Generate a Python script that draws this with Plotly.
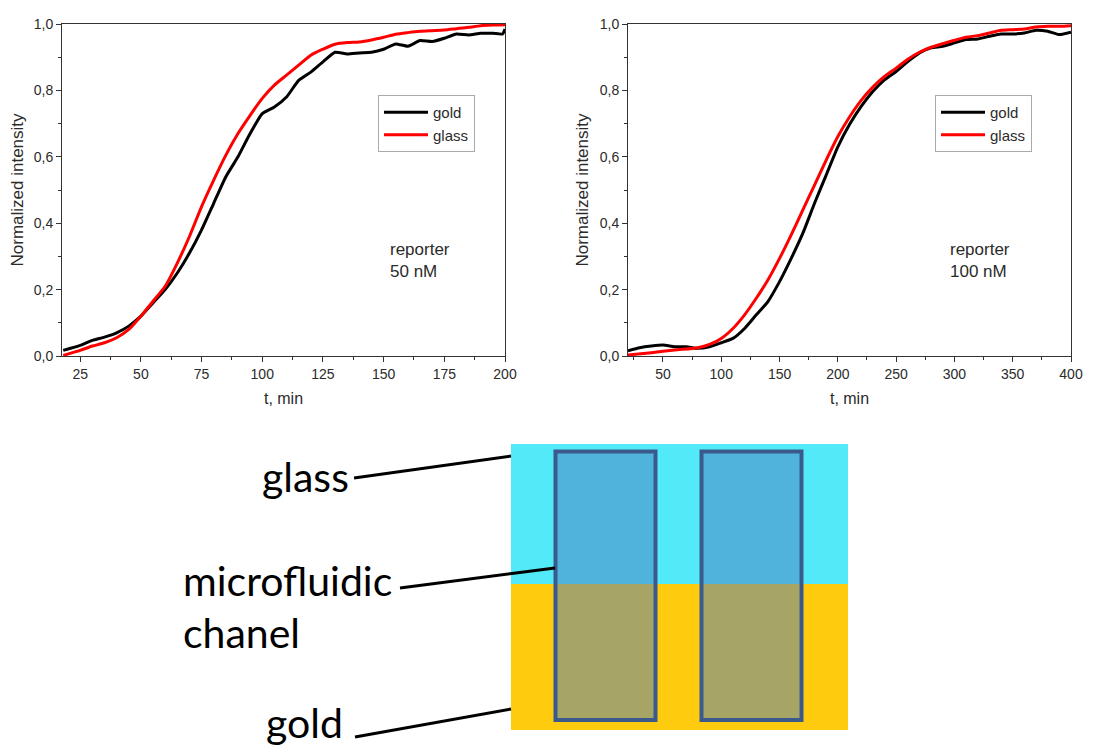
import plotly.graph_objects as go

# ---------------- data ----------------
t_50_gold = [18, 25, 30, 35, 40, 45, 50, 55, 60, 65, 70, 75, 80, 85, 90, 95, 100, 105, 110, 115,
             120, 125, 130, 135, 140, 145, 150, 155, 160, 165, 170, 175, 180, 185, 190, 195, 199, 200]
i_50_gold = [0.017, 0.032, 0.047, 0.057, 0.07, 0.09, 0.12, 0.16, 0.20, 0.25, 0.31, 0.38, 0.46, 0.54,
             0.60, 0.67, 0.73, 0.75, 0.78, 0.83, 0.855, 0.886, 0.915, 0.91, 0.913, 0.915, 0.924, 0.94,
             0.933, 0.95, 0.947, 0.957, 0.97, 0.967, 0.972, 0.972, 0.97, 0.985]

t_50_glass = [18, 25, 30, 35, 40, 45, 50, 55, 60, 65, 70, 75, 80, 85, 90, 95, 100, 105, 110, 115,
              120, 125, 130, 135, 140, 145, 150, 155, 160, 165, 170, 175, 180, 185, 190, 195, 200]
i_50_glass = [0.002, 0.017, 0.03, 0.04, 0.055, 0.08, 0.12, 0.165, 0.21, 0.28, 0.36, 0.45, 0.53, 0.605,
              0.67, 0.725, 0.776, 0.816, 0.846, 0.876, 0.906, 0.924, 0.939, 0.944, 0.946, 0.952, 0.96,
              0.969, 0.974, 0.978, 0.98, 0.982, 0.986, 0.99, 0.995, 0.997, 0.998]

t_100_gold = [20, 30, 40, 50, 60, 70, 80, 90, 100, 110, 120, 130, 140, 150, 160, 170, 180, 190, 200,
              210, 220, 230, 240, 250, 260, 270, 280, 290, 300, 310, 320, 330, 340, 350, 360, 370, 380,
              390, 400]
i_100_gold = [0.016, 0.025, 0.03, 0.033, 0.028, 0.028, 0.023, 0.028, 0.04, 0.053, 0.083, 0.124, 0.164,
              0.224, 0.294, 0.37, 0.46, 0.545, 0.63, 0.697, 0.752, 0.797, 0.832, 0.857, 0.887, 0.913,
              0.928, 0.933, 0.943, 0.953, 0.955, 0.963, 0.97, 0.97, 0.973, 0.981, 0.978, 0.968, 0.975]

t_100_glass = [20, 40, 60, 80, 90, 100, 110, 120, 130, 140, 150, 160, 170, 180, 190, 200, 210, 220, 230,
               240, 250, 260, 270, 280, 290, 300, 310, 320, 330, 340, 350, 360, 370, 380, 390, 400]
i_100_glass = [0.003, 0.01, 0.018, 0.025, 0.035, 0.053, 0.083, 0.124, 0.174, 0.229, 0.294, 0.365, 0.44,
               0.515, 0.59, 0.661, 0.72, 0.77, 0.81, 0.842, 0.867, 0.894, 0.915, 0.93, 0.941, 0.951,
               0.96, 0.965, 0.973, 0.981, 0.983, 0.985, 0.991, 0.993, 0.993, 0.995]

series_names = ["gold", "glass"]
panel_labels = ["reporter<br>50 nM", "reporter<br>100 nM"]
y_tickvals = [0.0, 0.2, 0.4, 0.6, 0.8, 1.0]
y_ticktext = ["0,0", "0,2", "0,4", "0,6", "0,8", "1,0"]
diagram_labels = ["glass", "microfluidic", "chanel", "gold"]

# ---------------- layout helpers ----------------
# the page body has an 8px default margin, so the figure is drawn 8px smaller
OFF = 8
W, H = 1093 - OFF, 748 - OFF
def X(px):
    return (px - OFF) / W
def Y(py):
    return 1 - (py - OFF) / H

FONT = "Liberation Sans, Arial, sans-serif"
TXT = "#2b2b2b"

fig = go.Figure()
fig.add_trace(go.Scatter(x=t_50_gold, y=i_50_gold, name=series_names[0], mode="lines",
                         line=dict(color="black", width=3, shape="spline", smoothing=0.5),
                         xaxis="x", yaxis="y", legend="legend"))
fig.add_trace(go.Scatter(x=t_50_glass, y=i_50_glass, name=series_names[1], mode="lines",
                         line=dict(color="#ff0000", width=3, shape="spline", smoothing=0.7),
                         xaxis="x", yaxis="y", legend="legend"))
fig.add_trace(go.Scatter(x=t_100_gold, y=i_100_gold, name=series_names[0], mode="lines",
                         line=dict(color="black", width=3, shape="spline", smoothing=0.5),
                         xaxis="x2", yaxis="y2", legend="legend2"))
fig.add_trace(go.Scatter(x=t_100_glass, y=i_100_glass, name=series_names[1], mode="lines",
                         line=dict(color="#ff0000", width=3, shape="spline", smoothing=0.7),
                         xaxis="x2", yaxis="y2", legend="legend2"))

axis_common = dict(showgrid=False, zeroline=False, showline=True, linecolor="#333", linewidth=1,
                   mirror=True, ticks="outside", ticklen=5, tickcolor="#333", automargin=False,
                   tickfont=dict(family=FONT, size=14, color=TXT))

ydom = [Y(356), Y(24)]
xtitle = dict(text="t, min", font=dict(family=FONT, size=16, color=TXT), standoff=12)
ytitle = dict(text="Normalized intensity", font=dict(family=FONT, size=17, color=TXT), standoff=6)
fig.update_layout(
    width=W, height=H, margin=dict(l=0, r=0, t=0, b=0, autoexpand=False),
    paper_bgcolor="white", plot_bgcolor="white",
    xaxis=dict(domain=[X(62), X(505)], range=[17.5, 200], anchor="y", tick0=25, dtick=25,
               minor=dict(tick0=0, dtick=12.5, ticks="outside", ticklen=3, tickcolor="#333"),
               title=xtitle, **axis_common),
    yaxis=dict(domain=ydom, range=[0, 1], anchor="x", tickmode="array", tickvals=y_tickvals,
               ticktext=y_ticktext,
               minor=dict(tick0=0, dtick=0.1, ticks="outside", ticklen=3, tickcolor="#333"),
               title=ytitle, **axis_common),
    xaxis2=dict(domain=[X(628), X(1071)], range=[20, 400], anchor="y2", tick0=50, dtick=50,
                minor=dict(tick0=0, dtick=25, ticks="outside", ticklen=3, tickcolor="#333"),
                title=xtitle, **axis_common),
    yaxis2=dict(domain=ydom, range=[0, 1], anchor="x2", tickmode="array", tickvals=y_tickvals,
                ticktext=y_ticktext,
                minor=dict(tick0=0, dtick=0.1, ticks="outside", ticklen=3, tickcolor="#333"),
                title=ytitle, **axis_common),
    legend=dict(x=X(378), y=Y(95), xanchor="left", yanchor="top", bordercolor="#aaa", borderwidth=1,
                bgcolor="white", font=dict(family=FONT, size=15, color=TXT), tracegroupgap=0,
                itemwidth=44),
    legend2=dict(x=X(935), y=Y(95), xanchor="left", yanchor="top", bordercolor="#aaa", borderwidth=1,
                 bgcolor="white", font=dict(family=FONT, size=15, color=TXT), tracegroupgap=0,
                 itemwidth=44),
    showlegend=True,
)

# panel labels
fig.add_annotation(x=X(388), y=Y(238), xref="paper", yref="paper", text=panel_labels[0],
                   showarrow=False, xanchor="left", yanchor="top", align="left",
                   font=dict(family=FONT, size=17, color=TXT))
fig.add_annotation(x=X(948), y=Y(238), xref="paper", yref="paper", text=panel_labels[1],
                   showarrow=False, xanchor="left", yanchor="top", align="left",
                   font=dict(family=FONT, size=17, color=TXT))

# ---------------- diagram ----------------
GLASS = "#52e9f9"
GOLD = "#fecb0e"
CH_GLASS = "#4fb3dc"
CH_GOLD = "#a7a565"
OUTLINE = "#3a5a8c"

def rect(x0, y0, x1, y1, fill, line=None, lw=0):
    fig.add_shape(type="rect", xref="paper", yref="paper", x0=X(x0), x1=X(x1), y0=Y(y1), y1=Y(y0),
                  fillcolor=fill, line=dict(color=line or fill, width=lw), layer="above")

rect(511, 444, 848, 584, GLASS)
rect(511, 584, 848, 730, GOLD)
for cx0, cx1 in [(555.5, 655.5), (701.5, 801.5)]:
    rect(cx0, 451.5, cx1, 584, CH_GLASS)
    rect(cx0, 584, cx1, 720, CH_GOLD)
    fig.add_shape(type="rect", xref="paper", yref="paper", x0=X(cx0), x1=X(cx1), y0=Y(720), y1=Y(451.5),
                  fillcolor="rgba(0,0,0,0)", line=dict(color=OUTLINE, width=4), layer="above")

for (x0, y0, x1, y1) in [(354, 478, 511, 456), (400, 588, 555, 568), (355, 737, 511, 709)]:
    fig.add_shape(type="line", xref="paper", yref="paper", x0=X(x0), y0=Y(y0), x1=X(x1), y1=Y(y1),
                  line=dict(color="black", width=3), layer="above")

DFONT = "Lato, Carlito, sans-serif"
for text, x, y in [(diagram_labels[0], 260, 476), (diagram_labels[1], 181, 580),
                   (diagram_labels[2], 181, 632), (diagram_labels[3], 264, 722)]:
    fig.add_annotation(x=X(x), y=Y(y), xref="paper", yref="paper", text=text, showarrow=False,
                       xanchor="left", yanchor="middle", font=dict(family=DFONT, size=41, color="black"))

fig.write_html("out.html")
